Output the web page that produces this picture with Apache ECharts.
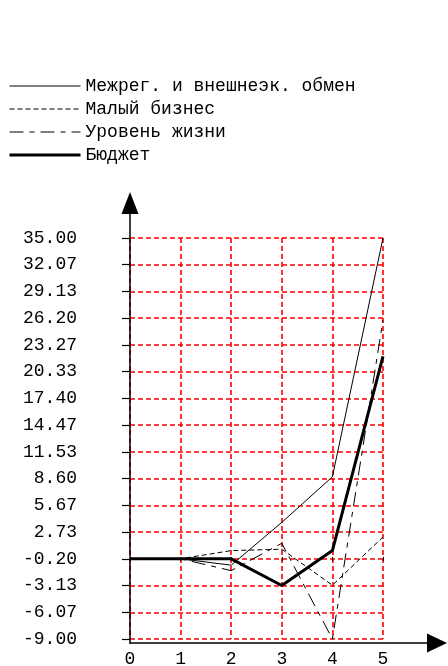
<!DOCTYPE html>
<html>
<head>
<meta charset="utf-8">
<script src="https://cdn.jsdelivr.net/npm/echarts@6/dist/echarts.min.js"></script>
<style>
html,body{margin:0;padding:0;background:#fff;}
#c{width:448px;height:666px;}
</style>
</head>
<body>
<div id="c"></div>
<script>
const xValues = [0, 1, 2, 3, 4, 5];
const yTickLabels = ['-9.00','-6.07','-3.13','-0.20','2.73','5.67','8.60','11.53','14.47','17.40','20.33','23.27','26.20','29.13','32.07','35.00'];
const yMin = -9.00;
const yMax = 35.00;

const seriesNames = ['Межрег. и внешнеэк. обмен', 'Малый бизнес', 'Уровень жизни', 'Бюджет'];
const mezhreg = [-0.2, -0.2, -0.9, 3.8, 8.8, 35];
const malyiBiznes = [-0.2, -0.2, 0.7, 0.85, -3.1, 2.2];
const urovenZhizni = [-0.2, -0.2, -1.5, 1.5, -9, 26];
const byudzhet = [-0.2, -0.2, -0.2, -3.13, 0.7, 22];

const FONT = 'Liberation Mono';
const pairs = vals => xValues.map((x, i) => [x, vals[i]]);

const chart = echarts.init(document.getElementById('c'), null, {renderer: 'canvas'});

function lineSeries(name, vals, width, type) {
  return {
    name: name, type: 'line', xAxisIndex: 0, yAxisIndex: 0,
    data: pairs(vals), symbol: 'none', showSymbol: false, animation: false,
    lineStyle: {color: '#000', width: width, type: type},
    itemStyle: {color: '#000'}
  };
}

const gridLineStyle = {color: '#ff0000', type: [5, 3], width: 1.6};

chart.setOption({
  backgroundColor: '#fff',
  animation: false,
  legend: {
    orient: 'vertical', left: 8, top: 77, padding: 0,
    itemWidth: 71, itemHeight: 14, itemGap: 5,
    itemStyle: {opacity: 0},
    lineStyle: {width: 'inherit', type: 'inherit', color: '#000'},
    textStyle: {fontFamily: FONT, fontSize: 18, color: '#000', lineHeight: 18},
    data: seriesNames
  },
  grid: [
    {left: 130, right: 65, top: 238, bottom: 27, outerBoundsMode: 'none', containLabel: false},
    {left: 130, right: 11, top: 203, bottom: 23, outerBoundsMode: 'none', containLabel: false}
  ],
  xAxis: [
    {
      gridIndex: 0, type: 'value', min: 0, max: 5, interval: 1, offset: 4,
      axisLine: {show: false},
      axisTick: {show: true, length: 4, lineStyle: {color: '#000', width: 1}},
      axisLabel: {margin: 7, color: '#000', fontFamily: FONT, fontSize: 18},
      splitLine: {show: true, lineStyle: gridLineStyle}
    },
    {
      gridIndex: 1, type: 'value', min: 0, max: 1,
      axisLine: {show: true, onZero: false, symbol: ['none', 'triangle'], symbolSize: [19, 20], lineStyle: {color: '#000', width: 1.5}},
      axisTick: {show: false}, axisLabel: {show: false}, splitLine: {show: false}
    }
  ],
  yAxis: [
    {gridIndex: 0, type: 'value', min: yMin, max: yMax, show: false, splitLine: {show: false}},
    {
      gridIndex: 0, type: 'category', position: 'left', data: yTickLabels, boundaryGap: false,
      axisLine: {show: false},
      axisTick: {show: true, length: 8, interval: 0, lineStyle: {color: '#000', width: 1.2}},
      axisLabel: {interval: 0, margin: 53, color: '#000', fontFamily: FONT, fontSize: 18},
      splitLine: {show: true, interval: 0, lineStyle: gridLineStyle}
    },
    {
      gridIndex: 1, type: 'value', position: 'left', min: 0, max: 1,
      axisLine: {show: true, onZero: false, symbol: ['none', 'triangle'], symbolSize: [17, 22], lineStyle: {color: '#000', width: 1.5}},
      axisTick: {show: false}, axisLabel: {show: false}, splitLine: {show: false}
    }
  ],
  series: [
    lineSeries(seriesNames[0], mezhreg, 1, 'solid'),
    lineSeries(seriesNames[1], malyiBiznes, 1, [5, 3]),
    lineSeries(seriesNames[2], urovenZhizni, 1, [14, 6, 5, 6]),
    lineSeries(seriesNames[3], byudzhet, 3, 'solid')
  ]
});
</script>
</body>
</html>
